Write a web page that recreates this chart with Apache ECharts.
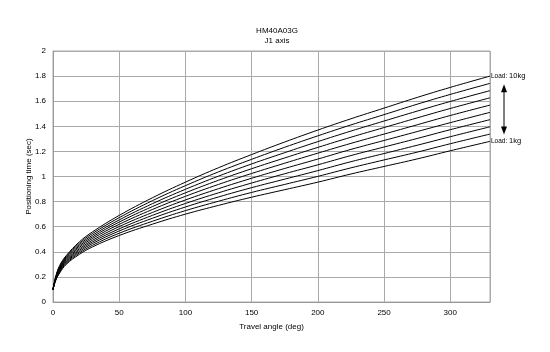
<!DOCTYPE html>
<html><head><meta charset="utf-8">
<script src="https://cdn.jsdelivr.net/npm/echarts@6/dist/echarts.min.js"></script>
<style>html,body{margin:0;padding:0;background:#fff}#c{width:550px;height:352px}</style>
</head><body><div id="c"></div>
<script>
var angles = [0, 2, 5, 10, 20, 30, 50, 75, 100, 125, 150, 175, 200, 225, 250, 275, 300, 330];
var load1kg  = [0.10,0.170,0.230,0.300,0.380,0.440,0.530,0.620,0.700,0.770,0.835,0.895,0.955,1.020,1.080,1.140,1.205,1.280];
var load2kg  = [0.10,0.173,0.237,0.308,0.391,0.453,0.548,0.643,0.728,0.803,0.873,0.937,1.001,1.069,1.132,1.194,1.261,1.338];
var load3kg  = [0.10,0.177,0.243,0.316,0.402,0.467,0.566,0.667,0.757,0.837,0.911,0.979,1.047,1.118,1.183,1.249,1.317,1.396];
var load4kg  = [0.10,0.180,0.250,0.323,0.413,0.480,0.583,0.690,0.785,0.870,0.948,1.022,1.093,1.167,1.235,1.303,1.373,1.453];
var load5kg  = [0.10,0.183,0.257,0.331,0.424,0.493,0.601,0.713,0.813,0.903,0.986,1.064,1.139,1.216,1.287,1.358,1.429,1.511];
var load6kg  = [0.10,0.187,0.263,0.339,0.436,0.507,0.619,0.737,0.842,0.937,1.024,1.106,1.186,1.264,1.338,1.412,1.486,1.569];
var load7kg  = [0.10,0.190,0.270,0.347,0.447,0.520,0.637,0.760,0.870,0.970,1.062,1.148,1.232,1.313,1.390,1.467,1.542,1.627];
var load8kg  = [0.10,0.193,0.277,0.354,0.458,0.533,0.654,0.783,0.898,1.003,1.100,1.190,1.278,1.362,1.442,1.521,1.598,1.684];
var load9kg  = [0.10,0.197,0.283,0.362,0.469,0.547,0.672,0.807,0.927,1.037,1.137,1.233,1.324,1.411,1.493,1.576,1.654,1.742];
var load10kg = [0.10,0.200,0.290,0.370,0.480,0.560,0.690,0.830,0.955,1.070,1.175,1.275,1.370,1.460,1.545,1.630,1.710,1.800];
var loads = [load1kg,load2kg,load3kg,load4kg,load5kg,load6kg,load7kg,load8kg,load9kg,load10kg];
var loadNames = ['1kg','2kg','3kg','4kg','5kg','6kg','7kg','8kg','9kg','10kg'];

var FONT = 'Liberation Sans';
var chart = echarts.init(document.getElementById('c'));
var series = loads.map(function(vals, i){
  var s = {
    type:'line', name:loadNames[i], smooth:0.4, showSymbol:false, symbol:'none',
    lineStyle:{color:'#000', width:1}, silent:true,
    data: angles.map(function(a, j){ return [a, vals[j]]; })
  };
  if (i === 0 || i === 9) {
    s.endLabel = {show:true, distance:1, fontFamily:FONT, fontSize:7, color:'#000',
      formatter: function(){ return '{a|Load: }{b|' + loadNames[i].replace('kg','') + '}{c|kg}'; },
      rich:{a:{fontSize:6.5,fontFamily:FONT,color:'#000'}, b:{fontSize:7.5,fontFamily:FONT,color:'#000'}, c:{fontSize:7.5,fontFamily:FONT,color:'#000'}}
    };
  }
  return s;
});
chart.setOption({
  animation:false,
  backgroundColor:'#fff',
  title:{text:'HM40A03G\nJ1 axis', left:272, textAlign:'center', top:21,
    textStyle:{fontFamily:FONT, fontSize:8, fontWeight:'normal', color:'#000', lineHeight:10}},
  grid:{left:53, right:60, top:51, bottom:50, show:true, borderColor:'#aaa', borderWidth:1},
  xAxis:{type:'value', min:0, max:330, interval:50, name:'Travel angle (deg)', nameLocation:'middle', nameGap:21,
    nameMoveOverlap:false,
    nameTextStyle:{fontFamily:FONT, fontSize:8, color:'#000'},
    axisLine:{lineStyle:{color:'#999'}}, axisTick:{show:false},
    axisLabel:{fontFamily:FONT, fontSize:8, color:'#000', margin:7, showMaxLabel:false},
    splitLine:{lineStyle:{color:'#aaa', width:1}}},
  yAxis:{type:'value', min:0, max:2, interval:0.2, name:'Positioning time (sec)', nameLocation:'middle', nameGap:20,
    nameMoveOverlap:false,
    nameTextStyle:{fontFamily:FONT, fontSize:8, color:'#000'},
    axisLine:{show:true, lineStyle:{color:'#999'}}, axisTick:{show:false},
    axisLabel:{fontFamily:FONT, fontSize:8, color:'#000', margin:7},
    splitLine:{lineStyle:{color:'#aaa', width:1}}},
  series: series
});
// double arrow annotation between the two load labels
var pTop = chart.convertToPixel({gridIndex:0}, [330, 1.72]);
var pBot = chart.convertToPixel({gridIndex:0}, [330, 1.35]);
var ax = pTop[0] + 14;
chart.setOption({graphic:[
  {type:'line', shape:{x1:ax, y1:pTop[1]+4, x2:ax, y2:pBot[1]-4}, style:{stroke:'#000', lineWidth:1}},
  {type:'polygon', shape:{points:[[ax,pTop[1]-2],[ax-3,pTop[1]+6],[ax+3,pTop[1]+6]]}, style:{fill:'#000'}},
  {type:'polygon', shape:{points:[[ax,pBot[1]+2],[ax-3,pBot[1]-6],[ax+3,pBot[1]-6]]}, style:{fill:'#000'}}
]});
</script></body></html>
